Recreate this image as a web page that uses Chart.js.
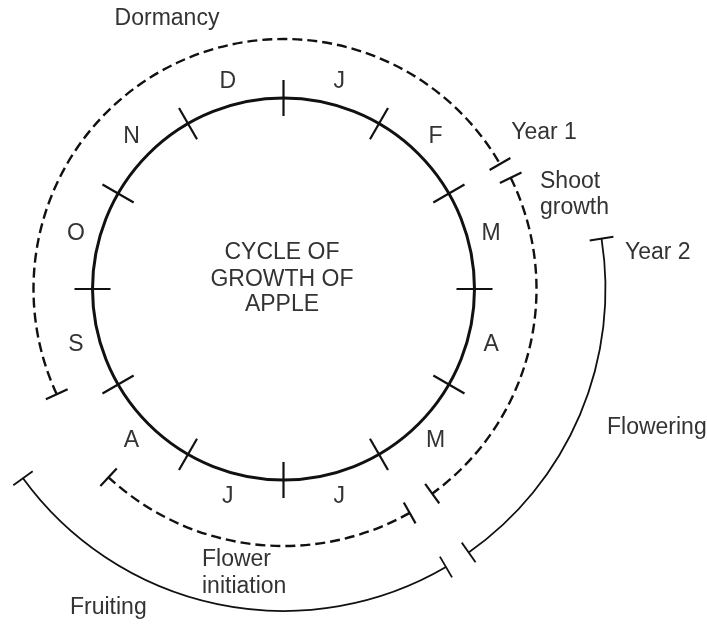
<!DOCTYPE html>
<html>
<head>
<meta charset="utf-8">
<script src="https://cdn.jsdelivr.net/npm/chart.js@4/dist/chart.umd.min.js"></script>
<style>
  html, body { margin: 0; padding: 0; background: #fff; }
  canvas { display: block; }
</style>
</head>
<body>
<canvas id="cycle" width="707" height="624"></canvas>
<script>
// ── data ─────────────────────────────────────────────
// months round the circle, clockwise, January starting at 12 o'clock
const months = ['J', 'F', 'M', 'A', 'M', 'J', 'J', 'A', 'S', 'O', 'N', 'D'];

// phases, start / end in months counted from 1 Jan (over 12 = next year)
const phaseNames = ['Dormancy', 'Shoot growth', 'Flower initiation', 'Flowering', 'Fruiting'];
const phaseStart = [8.17, 2.13, 5.02, 2.7, 4.99];
const phaseEnd   = [14.0, 4.8, 7.43, 4.83, 7.8];
const phaseYear  = [1, 1, 1, 2, 2];

// ── layout (pixels, centred on the month circle, y up) ─
const R_MONTH = 191, TICK = 18, R_LABEL = 215, CAP = 12;
const phaseRadius = [250, 253, 257, 322, 322];
const INK = '#111', TEXT = '#333';
const FONT = '23px "Liberation Sans", Arial, sans-serif';

const texts = [
  { t: 'Dormancy',   x: -116.5, y: 270,  align: 'center' },
  { t: 'Year 1',     x: 260.5,  y: 156,  align: 'center' },
  { t: 'Shoot',      x: 256.5,  y: 107,  align: 'left' },
  { t: 'growth',     x: 256.5,  y: 81,   align: 'left' },
  { t: 'Year 2',     x: 341.5,  y: 36,   align: 'left' },
  { t: 'Flowering',  x: 323.5,  y: -139, align: 'left' },
  { t: 'Flower',     x: -81.5,  y: -271, align: 'left' },
  { t: 'initiation', x: -81.5,  y: -298, align: 'left' },
  { t: 'Fruiting',   x: -213.5, y: -319, align: 'left' },
  { t: 'CYCLE OF',   x: -1.5,   y: 36,   align: 'center' },
  { t: 'GROWTH OF',  x: -1.5,   y: 9,    align: 'center' },
  { t: 'APPLE',      x: -1.5,   y: -16,  align: 'center' },
];

// month -> point on a circle of radius r (clockwise from top)
function polar(m, r) {
  const a = m / 12 * 2 * Math.PI;
  return { x: r * Math.sin(a), y: r * Math.cos(a) };
}
function radialSeg(m, r, half, width) {
  return {
    data: [polar(m, r - half), polar(m, r + half)],
    showLine: true, borderColor: INK, borderWidth: width,
    pointRadius: 0, fill: false,
  };
}

const datasets = [];
// month boundary ticks on the main circle
months.forEach((_, i) => datasets.push(radialSeg(i, R_MONTH, TICK, 2.2)));
// end caps of each phase arc
phaseNames.forEach((_, i) => {
  const w = phaseYear[i] === 1 ? 2.2 : 1.8;
  datasets.push(radialSeg(phaseStart[i], phaseRadius[i], CAP, w));
  datasets.push(radialSeg(phaseEnd[i], phaseRadius[i], CAP, w));
});

// arcs and text, placed through the chart's x / y scales
const cyclePlugin = {
  id: 'cycle',
  beforeDatasetsDraw(chart) {
    const { ctx, scales: { x, y } } = chart;
    const cx = x.getPixelForValue(0), cy = y.getPixelForValue(0);
    const px = r => x.getPixelForValue(r) - cx;
    const ang = m => m / 12 * 2 * Math.PI - Math.PI / 2;
    ctx.save();
    ctx.strokeStyle = INK;
    ctx.lineCap = 'butt';
    // main month circle
    ctx.lineWidth = 3;
    ctx.beginPath();
    ctx.arc(cx, cy, px(R_MONTH), 0, 2 * Math.PI);
    ctx.stroke();
    // phase arcs: dashed for year 1, solid for year 2
    phaseNames.forEach((_, i) => {
      ctx.setLineDash(phaseYear[i] === 1 ? [10, 5] : []);
      ctx.lineWidth = phaseYear[i] === 1 ? 2.4 : 1.8;
      ctx.beginPath();
      ctx.arc(cx, cy, px(phaseRadius[i]), ang(phaseStart[i]), ang(phaseEnd[i]));
      ctx.stroke();
    });
    ctx.setLineDash([]);
    // month letters
    ctx.fillStyle = TEXT;
    ctx.font = FONT;
    ctx.textAlign = 'center';
    ctx.textBaseline = 'middle';
    months.forEach((m, i) => {
      const p = polar(i + 0.5, R_LABEL);
      ctx.fillText(m, x.getPixelForValue(p.x), y.getPixelForValue(p.y));
    });
    // phase / year labels
    texts.forEach(d => {
      ctx.textAlign = d.align;
      ctx.fillText(d.t, x.getPixelForValue(d.x), y.getPixelForValue(d.y));
    });
    ctx.restore();
  }
};

new Chart(document.getElementById('cycle'), {
  type: 'scatter',
  data: { datasets },
  options: {
    responsive: false,
    animation: false,
    devicePixelRatio: 1,
    layout: { padding: 0 },
    plugins: { legend: { display: false }, tooltip: { enabled: false } },
    scales: {
      x: { type: 'linear', min: -283.5, max: 423.5, display: false },
      y: { type: 'linear', min: -335, max: 289, display: false },
    },
  },
  plugins: [cyclePlugin],
});
</script>
</body>
</html>
